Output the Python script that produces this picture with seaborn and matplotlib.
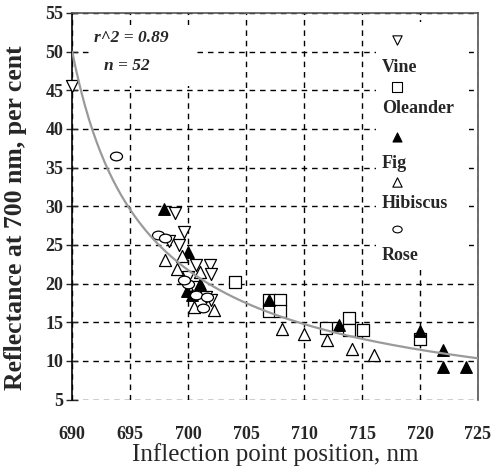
import numpy as np
import pandas as pd
import matplotlib
matplotlib.use("Agg")
import matplotlib.pyplot as plt
from matplotlib.path import Path
from matplotlib.transforms import Affine2D
import seaborn as sns

sns.set_theme(style="white")
plt.rcParams['font.family'] = ['Liberation Serif', 'DejaVu Serif']

# ---- data ----
vine_x = [690.0, 698.9, 699.6, 699.2, 698.3, 700.7, 701.9, 702.0, 700.0, 701.5, 702.0, 700.5]
vine_y = [45.5, 29.1, 26.7, 25.0, 25.5, 22.4, 22.4, 21.3, 20.9, 18.2, 17.9, 19.5]

oleander_x = [704.0, 707.0, 707.9, 707.0, 707.9, 711.9, 713.9, 713.9, 715.1, 720.0]
oleander_y = [20.2, 17.9, 17.9, 16.4, 16.4, 14.3, 15.5, 14.0, 14.0, 12.8]

fig_x = [697.9, 700.0, 701.0, 699.9, 707.0, 713.0, 720.0, 722.0, 722.0, 724.0, 700.3]
fig_y = [29.6, 24.1, 20.0, 19.0, 17.9, 14.6, 13.8, 11.4, 9.2, 9.2, 18.5]

hibiscus_x = [698.0, 699.0, 701.0, 702.2, 708.1, 710.0, 712.0, 714.1, 716.0, 700.5, 699.5]
hibiscus_y = [23.0, 21.9, 21.5, 16.6, 14.1, 13.5, 12.7, 11.5, 10.7, 17.0, 23.5]

rose_x = [693.8, 697.4, 698.0, 700.0, 700.7, 701.6, 701.3, 699.6]
rose_y = [36.5, 26.3, 25.9, 20.0, 18.5, 18.3, 16.8, 20.5]

species = ["Vine", "Oleander", "Fig", "Hibiscus", "Rose"]
stats_text = ["r^2 = 0.89", "n = 52"]
fit_offset = 685.0  # shift used in the power-law trend y = A (x - c)^b

x_ticks = list(range(690, 726, 5))
y_ticks = list(range(5, 56, 5))

# ---- build table ----
frames = []
for name, xs, ys in zip(species,
                        [vine_x, oleander_x, fig_x, hibiscus_x, rose_x],
                        [vine_y, oleander_y, fig_y, hibiscus_y, rose_y]):
    frames.append(pd.DataFrame({"x": xs, "y": ys, "species": name}))
df = pd.concat(frames, ignore_index=True)

ellipse = Path.unit_circle().transformed(Affine2D().scale(1.0, 0.72))

styles = {
    "Vine": dict(marker="v", facecolor="white", size=75),
    "Oleander": dict(marker="s", facecolor="white", size=70),
    "Fig": dict(marker="^", facecolor="black", size=70),
    "Hibiscus": dict(marker="^", facecolor="white", size=75),
    "Rose": dict(marker=ellipse, facecolor="white", size=75),
}

fig = plt.figure(figsize=(4.93, 4.73), dpi=100)
ax = fig.add_axes([72.3 / 493, 1 - 399.5 / 473, (478 - 72.3) / 493, (399.5 - 13) / 473])

# trend line fitted from the data
lx = np.log(df["x"].values - fit_offset)
ly = np.log(df["y"].values)
b, lnA = np.polyfit(lx, ly, 1)
xs = np.linspace(690, 725, 200)
trend = pd.DataFrame({"x": xs, "y": np.exp(lnA) * (xs - fit_offset) ** b})

for name in species:
    st = styles[name]
    sub = df[df["species"] == name]
    sns.scatterplot(data=sub, x="x", y="y", ax=ax, marker=st["marker"],
                    s=st["size"], color=st["facecolor"], edgecolor="black",
                    linewidth=0.9, zorder=3, legend=False, clip_on=False)

sns.lineplot(data=trend, x="x", y="y", ax=ax, color="#9a9a9a", linewidth=1.6,
             zorder=4, legend=False)

ax.set_xlim(690, 725)
ax.set_ylim(5, 55)
ax.set_xticks(x_ticks)
ax.set_yticks(y_ticks)
ax.set_xticklabels([str(t) for t in x_ticks], fontsize=13, fontweight="bold")
ax.set_yticklabels([str(t) for t in y_ticks], fontsize=13, fontweight="bold")
ax.grid(True, color="black", linestyle=(0, (4, 3.5)), linewidth=1.0)
ax.set_axisbelow(True)
ax.tick_params(axis="y", direction="inout", length=9, width=1.0, pad=2, left=True)
ax.tick_params(axis="x", length=0, pad=19)

for side in ["top", "right"]:
    ax.spines[side].set_color("#555555")
    ax.spines[side].set_linewidth(1.2)
ax.spines["left"].set_color("black")
ax.spines["left"].set_linewidth(1.2)
ax.spines["bottom"].set_visible(False)

ax.set_xlabel("Inflection point position, nm", fontsize=18, labelpad=0)
ax.set_ylabel("Reflectance at 700 nm, per cent", fontsize=18.5, fontweight="bold",
              va="center")
ax.yaxis.set_label_coords(-0.141, 0.47)

# statistics box
ax.add_patch(plt.Rectangle((0.049, 0.81), 0.253, 0.16, transform=ax.transAxes,
                           facecolor="white", edgecolor="none", zorder=2))
ax.text(0.145, 0.935, stats_text[0], transform=ax.transAxes, fontsize=12.5,
        fontweight="bold", style="italic", ha="center", va="center", zorder=5)
ax.text(0.135, 0.863, stats_text[1], transform=ax.transAxes, fontsize=12.5,
        fontweight="bold", style="italic", ha="center", va="center", zorder=5)

# legend: marker above each label
ax.add_patch(plt.Rectangle((0.749, 0.335), 0.229, 0.642, transform=ax.transAxes,
                           facecolor="white", edgecolor="none", zorder=2))
marker_y = [40, 87, 137, 182, 229]
label_y = [68, 108, 163, 203, 255]
for name, my, tyy in zip(species, marker_y, label_y):
    st = styles[name]
    ax.scatter([(397 - 72.3) / 405.7], [(399.5 - my) / 386.5], transform=ax.transAxes,
               marker=st["marker"], s=st["size"] * 0.6, facecolor=st["facecolor"],
               edgecolor="black", linewidth=0.8, zorder=5, clip_on=False)
    ax.text((382 - 72.3) / 405.7, (399.5 - tyy) / 386.5, name, transform=ax.transAxes,
            fontsize=13, fontweight="bold", ha="left", va="center", zorder=5)

fig.savefig("out.png", dpi=100)
